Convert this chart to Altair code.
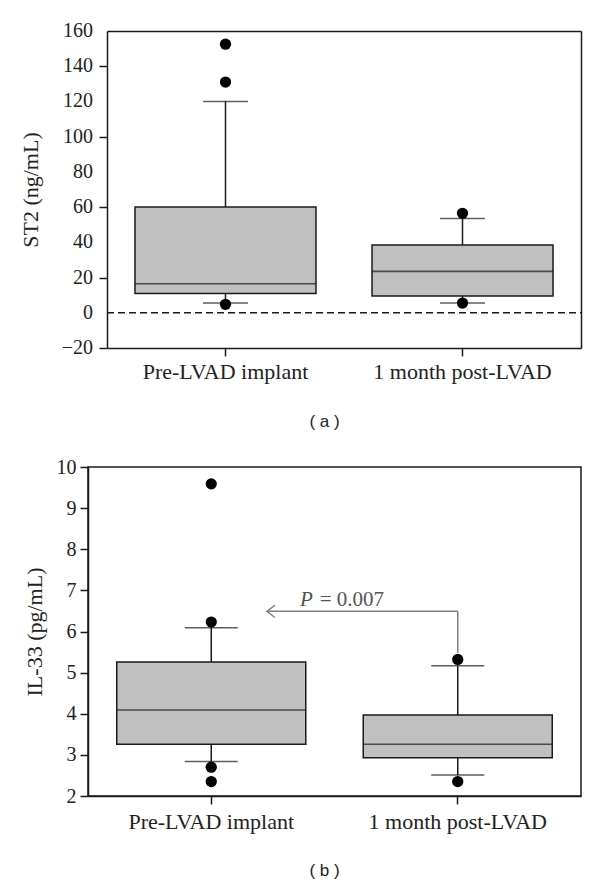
import altair as alt
import pandas as pd

groups = ["Pre-LVAD implant", "1 month post-LVAD"]

# Panel (a): ST2 (ng/mL)
st2_low = [5.5, 5.5]
st2_q1 = [11.0, 9.5]
st2_median = [16.5, 23.5]
st2_q3 = [60.0, 38.5]
st2_high = [120.0, 53.5]
st2_out_group = ["Pre-LVAD implant", "Pre-LVAD implant", "Pre-LVAD implant",
                 "1 month post-LVAD", "1 month post-LVAD"]
st2_out_value = [152.5, 131.0, 4.8, 56.5, 5.5]
st2_ticks = [-20, 0, 20, 40, 60, 80, 100, 120, 140, 160]

# Panel (b): IL-33 (pg/mL)
il_low = [2.84, 2.51]
il_q1 = [3.26, 2.93]
il_median = [4.09, 3.26]
il_q3 = [5.26, 3.97]
il_high = [6.09, 5.17]
il_out_group = ["Pre-LVAD implant", "Pre-LVAD implant", "Pre-LVAD implant",
                "Pre-LVAD implant", "1 month post-LVAD", "1 month post-LVAD"]
il_out_value = [9.59, 6.23, 2.70, 2.35, 5.32, 2.35]
il_ticks = [2, 3, 4, 5, 6, 7, 8, 9, 10]

p_label = "= 0.007"

SERIF = "Liberation Serif"
SANS = "Liberation Sans"
BOX_FILL = "#c0c0c0"
INK = "#1a1a1a"
A_SHIFT = 19  # panel (a) plot starts this far right of panel (b)


def box_layers(low, q1, med, q3, high, og, ov, xs, ys, xaxis, yaxis,
               box_w, cap_w):
    box = pd.DataFrame({"g": groups, "low": low, "q1": q1, "med": med,
                        "q3": q3, "high": high})
    out = pd.DataFrame({"g": og, "v": ov})
    base = alt.Chart(box)
    whisk = base.mark_rule(color=INK, strokeWidth=1.5).encode(
        x=alt.X("g:N", scale=xs, sort=groups, axis=xaxis),
        y=alt.Y("low:Q", scale=ys, axis=yaxis), y2="high:Q")
    caps_hi = base.mark_tick(color=INK, thickness=1.5, size=cap_w).encode(
        x="g:N", y="high:Q")
    caps_lo = base.mark_tick(color=INK, thickness=1.5, size=cap_w).encode(
        x="g:N", y="low:Q")
    rect = base.mark_bar(size=box_w, fill=BOX_FILL, stroke=INK,
                         strokeWidth=1.5).encode(x="g:N", y="q1:Q", y2="q3:Q")
    median = base.mark_tick(color=INK, thickness=1.6, size=box_w).encode(
        x="g:N", y="med:Q")
    pts = alt.Chart(out).mark_circle(size=127, color="black", opacity=1).encode(
        x="g:N", y="v:Q")
    return alt.layer(whisk, caps_hi, caps_lo, rect, median, pts), base


def x_axis(title, title_x, label_pad, title_pad):
    return alt.Axis(title=title, labelAngle=0, labelPadding=label_pad,
                    labelFontSize=22, titleFont=SANS, titleFontSize=17,
                    titleFontWeight="normal", titlePadding=title_pad,
                    titleX=title_x, titleColor="#222")


# ---------- panel (a) ----------
xs_a = alt.Scale(domain=groups, paddingInner=0, paddingOuter=0, rangeMin=A_SHIFT)
ys_a = alt.Scale(domain=[-20, 160], nice=False, zero=False)
yaxis_a = alt.Axis(title="ST2 (ng/mL)", values=st2_ticks, labels=False,
                   offset=-A_SHIFT, titleFont=SERIF, titleFontSize=22,
                   titleFontWeight="normal", titlePadding=56, titleColor="#222")
boxes_a, base_a = box_layers(
    st2_low, st2_q1, st2_median, st2_q3, st2_high, st2_out_group, st2_out_value,
    xs_a, ys_a, x_axis("( a )", 236, 5, 31), yaxis_a, 181, 45)
frame_a = base_a.mark_rule(opacity=0).encode(
    x=alt.X("g:N", axis=alt.Axis(orient="top", labels=False, ticks=False,
                                 domain=True, title=None)),
    y=alt.Y("low:Q", axis=alt.Axis(orient="right", labels=False, ticks=False,
                                   domain=True, title=None)))
framed_a = alt.layer(boxes_a, frame_a).resolve_axis(x="independent",
                                                    y="independent")
zx = alt.Scale(domain=[0, 2], nice=False, zero=False, rangeMin=A_SHIFT)
zero_line = alt.Chart(pd.DataFrame({"x": [0], "x2": [2], "z": [0]})).mark_rule(
    color=INK, strokeWidth=1.5, strokeDash=[7, 4]).encode(
    x=alt.X("x:Q", scale=zx, axis=None), x2="x2:Q",
    y=alt.Y("z:Q", axis=None))
ylab_df = pd.DataFrame({"x": [0] * len(st2_ticks), "v": st2_ticks,
                        "t": [str(v).replace("-", "\u2212") for v in st2_ticks]})
ylabels_a = alt.Chart(ylab_df).mark_text(
    font=SERIF, fontSize=20, color="#222", align="right", baseline="middle",
    dx=-14).encode(
    x=alt.X("x:Q", scale=zx, axis=None), y=alt.Y("v:Q", axis=None), text="t:N")
panel_a = alt.layer(alt.layer(zero_line, ylabels_a), framed_a).resolve_scale(
    x="independent").properties(
    width=493, height=317, view=alt.ViewBackground(stroke="transparent"))

# ---------- panel (b) ----------
xs_b = alt.Scale(domain=groups, paddingInner=0, paddingOuter=0)
ys_b = alt.Scale(domain=[2, 10], nice=False, zero=False)
yaxis_b = alt.Axis(title="IL-33 (pg/mL)", values=il_ticks, labelPadding=4,
                   labelOverlap=False, labelFontSize=20,
                   titleFont=SERIF, titleFontSize=22, titleFontWeight="normal",
                   titlePadding=10, titleColor="#222")
boxes_b, _ = box_layers(
    il_low, il_q1, il_median, il_q3, il_high, il_out_group, il_out_value,
    xs_b, ys_b, x_axis("( b )", 236, 7, 30), yaxis_b, 189, 53)

# annotation (independent quantitative x: band centres at 0.5 and 1.5)
ax = alt.Scale(domain=[0, 2], nice=False, zero=False)
ann_h = alt.Chart(pd.DataFrame({"x": [0.726], "x2": [1.5], "y": [6.49]})).mark_rule(
    color="#808080", strokeWidth=1.5).encode(
    x=alt.X("x:Q", scale=ax, axis=None), x2="x2:Q", y="y:Q")
ann_v = alt.Chart(pd.DataFrame({"x": [1.5], "y": [5.48], "y2": [6.49]})).mark_rule(
    color="#808080", strokeWidth=1.5).encode(
    x=alt.X("x:Q", scale=ax, axis=None), y="y:Q", y2="y2:Q")
ann_head = alt.Chart(pd.DataFrame({"x": [0.726], "y": [6.49]})).mark_point(
    shape="M1.3,-1L0,0L1.3,1", size=150, filled=False, color="#808080",
    strokeWidth=1.5, opacity=1).encode(
    x=alt.X("x:Q", scale=ax, axis=None), y="y:Q")
ann_p = alt.Chart(pd.DataFrame({"x": [0.86], "y": [6.63], "t": ["P"]})).mark_text(
    font=SERIF, fontSize=21, fontStyle="italic", color="#555", align="left",
    baseline="alphabetic").encode(
    x=alt.X("x:Q", scale=ax, axis=None), y="y:Q", text="t:N")
ann_val = alt.Chart(pd.DataFrame({"x": [0.94], "y": [6.63], "t": [p_label]})).mark_text(
    font=SERIF, fontSize=21, color="#555", align="left",
    baseline="alphabetic").encode(
    x=alt.X("x:Q", scale=ax, axis=None), y="y:Q", text="t:N")
ann_b = alt.layer(ann_h, ann_v, ann_head, ann_p, ann_val)

panel_b = alt.layer(boxes_b, ann_b).resolve_scale(x="independent").properties(
    width=493, height=329, view=alt.ViewBackground(stroke=INK, strokeWidth=1.5))

chart = alt.vconcat(panel_a, panel_b, spacing=26).properties(
    padding={"top": 12, "left": 10, "right": 5, "bottom": 0}
).configure_axis(
    domainColor=INK, domainWidth=1.5, tickColor=INK, tickWidth=1.5, tickSize=8,
    labelFont=SERIF, labelColor="#222", grid=False, labelOverlap=False
)

chart.save("out.html", embed_options={"renderer": "svg", "actions": False})
